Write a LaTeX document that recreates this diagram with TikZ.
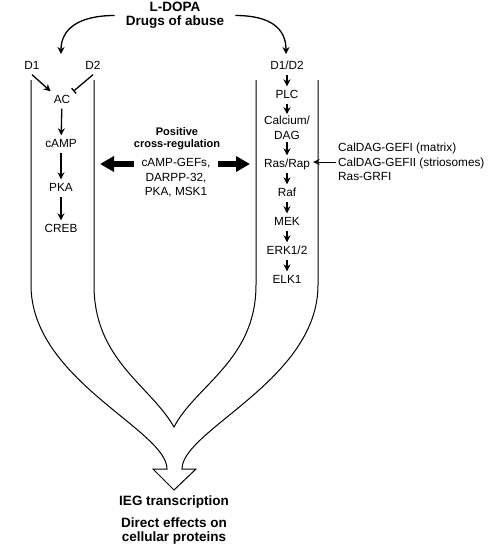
\documentclass[tikz,border=0pt]{standalone}
\usepackage{fontspec}
\setmainfont{Liberation Sans}
\usetikzlibrary{arrows.meta}

\begin{document}
\begin{tikzpicture}[x=1pt, y=-1pt,
    txt/.style = {font=\fontsize{11.8}{14.5}\selectfont, inner sep=3pt, text height=8.5pt, text depth=2.5pt},
    mtxt/.style = {font=\fontsize{11.8}{14.5}\selectfont, align=center, inner sep=2pt},
    bld/.style = {font=\bfseries\fontsize{13.5}{14}\selectfont, align=center, inner sep=2pt},
    sbld/.style = {font=\bfseries\fontsize{11}{12}\selectfont, align=center, inner sep=2pt},
    arr/.style = {line width=1.3pt, -{Stealth[length=7pt, width=7pt]}},
    inh/.style = {line width=1.3pt, -{Bar[width=7pt]}},
    fat/.style = {line width=6pt, -{Triangle[length=14pt, width=15pt]}},
    wall/.style = {line width=1pt}]
%        \draw[lightgray, very thin] (0,0) grid[step=10] (490,549); %网格
        \useasboundingbox (0,0) rectangle (490,549); %画布大小
        \node[bld] (title) at (175,15.5) {L-DOPA\\Drugs of abuse}; %顶部标题
        \coordinate (lt) at (61,54); \coordinate (rt) at (286,54);
        \draw[arr, shorten <=9pt] (title.west) .. controls +(-45,0) and +(0,-25) .. (lt); %左弯箭头
        \draw[arr, shorten <=9pt] (title.east) .. controls +(45,0) and +(0,-25) .. (rt); %右弯箭头
        % 左通路
        \node[txt] (d1) at (32,66) {D1};
        \node[txt] (d2) at (93,66) {D2};
        \node[txt] (ac) at (62,100) {AC};
        \node[txt] (camp) at (61,144) {cAMP};
        \node[txt] (pka) at (61,188) {PKA};
        \node[txt] (creb) at (61,229) {CREB};
        \draw[arr] (d1.south) -- (ac.north west);
        \draw[inh] (d2.south) -- (ac.north east); %抑制
        \draw[arr] (ac) -- (camp);
        \draw[arr] (camp) -- (pka);
        \draw[arr] (pka) -- (creb);
        % 右通路
        \node[txt] (d1d2) at (287,66) {D1/D2};
        \node[txt] (plc) at (287,95) {PLC};
        \node[mtxt] (cal) at (287,128) {Calcium/\\DAG};
        \node[txt] (ras) at (287,164) {Ras/Rap};
        \node[txt] (raf) at (287,193) {Raf};
        \node[txt] (mek) at (287,222) {MEK};
        \node[txt] (erk) at (287,251) {ERK1/2};
        \node[txt] (elk) at (287,280) {ELK1};
        \draw[arr] (d1d2) -- (plc);
        \draw[arr] (plc) -- (cal);
        \draw[arr] (cal) -- (ras);
        \draw[arr] (ras) -- (raf);
        \draw[arr] (raf) -- (mek);
        \draw[arr] (mek) -- (erk);
        \draw[arr] (erk) -- (elk);
        \node[mtxt, align=left, anchor=west] (gef) at (336,162) {CalDAG-GEFI (matrix)\\CalDAG-GEFII (striosomes)\\Ras-GRFI};
        \draw[line width=1pt, -{Stealth[length=6.5pt, width=6pt]}] (gef.west) -- (ras.east |- gef.west);
        % 管道外形
        \coordinate (la) at (31,80); \coordinate (lb) at (94,80);
        \coordinate (ra) at (256,80); \coordinate (rb) at (318,80);
        \coordinate (v) at (174,427); %汇合尖点
        \draw[wall] (la) -- (31,285) .. controls (31,380) and (167,430) .. (167,469)
            -- (153,469) -- (174,490) -- (196,469) -- (182,469)
            .. controls (182,430) and (318,380) .. (318,285) -- (rb); %外轮廓与大箭头
        \draw[wall] (lb) -- (94,285) .. controls (94,360) and (150,385) .. (v)
            .. controls (196,385) and (256,360) .. (256,285) -- (ra); %内轮廓
        % 交叉调节
        \node[sbld] (pos) at (177,139) {Positive\\cross-regulation};
        \node[mtxt, inner xsep=7pt] (cross) at (176,178) {cAMP-GEFs,\\DARPP-32,\\PKA, MSK1};
        \draw[fat, shorten >=6pt] (cross.west |- ras) -- (lb |- ras);
        \draw[fat, shorten >=6pt] (cross.east |- ras) -- (ra |- ras);
        % 底部文字
        \node[bld] (ieg) at (174,502.5) {IEG transcription};
        \node[bld] (eff) at (174,531.5) {Direct effects on\\cellular proteins};
    \end{tikzpicture}
\end{document}
